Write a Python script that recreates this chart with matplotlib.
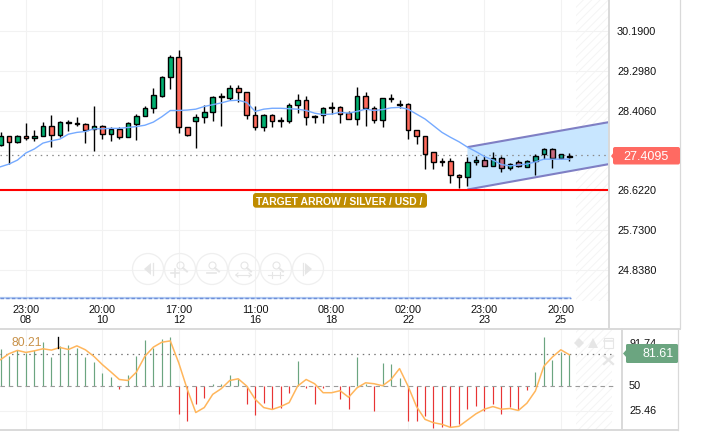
import matplotlib
matplotlib.use("Agg")
from matplotlib import pyplot as plt
from matplotlib.patches import Circle, FancyBboxPatch, Polygon, Rectangle
import numpy as np

plt.rcParams["font.family"] = ["Liberation Sans", "DejaVu Sans"]
plt.rcParams["hatch.linewidth"] = 0.6

# candles, one entry per bar
high = [27.92, 27.83, 27.86, 28.12, 27.98, 28.16, 28.30, 28.17, 28.19, 28.27, 28.14, 28.50, 28.09, 28.03, 28.05, 28.16, 28.33,
        28.50, 28.92, 29.19, 29.65, 29.77, 28.03, 28.34, 28.54, 28.74, 28.80, 28.97, 28.99, 28.82, 28.52, 28.33, 28.33, 28.27,
        28.57, 28.79, 28.73, 28.30, 28.48, 28.59, 28.52, 28.39, 28.93, 28.82, 28.50, 28.68, 28.78, 28.64, 28.57, 27.98, 27.85,
        27.47, 27.34, 27.34, 26.98, 27.36, 27.38, 27.38, 27.47, 27.40, 27.24, 27.30, 27.31, 27.44, 27.56, 27.56, 27.44, 27.46]
body_top = [27.83, 27.83, 27.85, 27.85, 27.83, 28.06, 28.06, 28.15, 28.15, 28.12, 28.10, 28.07, 28.06, 27.99, 27.99, 28.12, 28.29,
            28.46, 28.75, 29.15, 29.60, 29.60, 28.03, 28.26, 28.37, 28.72, 28.73, 28.91, 28.91, 28.82, 28.30, 28.30, 28.30, 28.19,
            28.53, 28.64, 28.64, 28.28, 28.46, 28.48, 28.48, 28.35, 28.73, 28.73, 28.46, 28.68, 28.69, 28.55, 28.55, 27.97, 27.83,
            27.47, 27.27, 27.27, 26.96, 27.25, 27.30, 27.30, 27.35, 27.35, 27.21, 27.25, 27.27, 27.40, 27.54, 27.54, 27.43, 27.39]
body_bottom = [27.64, 27.70, 27.70, 27.79, 27.79, 27.83, 27.87, 27.87, 28.12, 28.10, 27.98, 28.00, 27.89, 27.89, 27.82, 27.82, 28.11,
               28.29, 28.46, 28.74, 29.15, 28.03, 27.87, 28.17, 28.26, 28.37, 28.72, 28.70, 28.82, 28.30, 28.03, 28.03, 28.17, 28.17,
               28.18, 28.53, 28.26, 28.26, 28.30, 28.46, 28.33, 28.23, 28.21, 28.46, 28.19, 28.19, 28.67, 28.53, 27.97, 27.83, 27.44,
               27.25, 27.25, 26.96, 26.91, 26.91, 27.25, 27.17, 27.17, 27.12, 27.12, 27.16, 27.15, 27.27, 27.43, 27.34, 27.34, 27.37]
low = [27.62, 27.21, 27.68, 27.76, 27.73, 27.83, 27.60, 27.82, 27.94, 28.07, 27.68, 27.51, 27.77, 27.73, 27.77, 27.81, 27.76,
       28.29, 28.35, 28.72, 28.89, 27.91, 27.85, 27.58, 28.13, 28.18, 28.07, 28.65, 28.61, 28.22, 27.98, 27.94, 28.05, 28.05,
       28.14, 28.36, 28.09, 28.12, 28.12, 28.33, 28.14, 28.21, 28.09, 28.07, 28.12, 28.05, 28.59, 28.47, 27.78, 27.65, 27.11,
       27.11, 27.16, 26.78, 26.68, 26.71, 27.20, 27.17, 27.17, 27.03, 27.07, 27.14, 27.14, 26.97, 27.32, 27.12, 27.32, 27.27]
is_up = [1, 0, 1, 0, 1, 1, 0, 1, 1, 0, 0, 1, 0, 1, 0, 1, 1,
         1, 1, 1, 1, 0, 0, 1, 1, 1, 1, 1, 0, 0, 0, 1, 0, 0,
         1, 1, 0, 0, 1, 1, 0, 0, 1, 0, 0, 1, 1, 1, 0, 0, 0,
         0, 0, 0, 0, 1, 1, 0, 1, 0, 1, 0, 1, 1, 1, 0, 1, 1]
ma_line = [27.15, 27.21, 27.30, 27.46, 27.55, 27.68, 27.73, 27.77, 27.88, 27.92, 27.94, 28.00, 28.00, 28.01, 28.01, 28.03, 28.05,
           28.08, 28.15, 28.27, 28.41, 28.41, 28.42, 28.44, 28.50, 28.54, 28.58, 28.63, 28.64, 28.59, 28.39, 28.44, 28.46, 28.46,
           28.45, 28.44, 28.41, 28.35, 28.32, 28.33, 28.37, 28.35, 28.39, 28.44, 28.41, 28.43, 28.47, 28.48, 28.44, 28.33, 28.22,
           28.07, 27.92, 27.81, 27.71, 27.59, 27.49, 27.38, 27.30, 27.20, 27.17, 27.19, 27.21, 27.26, 27.32, 27.32, 27.32, 27.32]

# oscillator panel
osc_bars = [86.3, 79.1, 85.6, 82.4, 85.6, 93.8, 78.4, 88.9, 89.9, 87.3, 78.4, 73.5, 62.7, 58.8, 46.7, 61.1, 79.1,
            95.4, 87.3, 96.1, 98.0, 22.2, 15.4, 32.4, 37.9, 52.0, 52.0, 61.1, 56.9, 32.4, 20.6, 33.3, 26.5, 28.4,
            43.1, 74.2, 47.7, 32.4, 47.7, 50.0, 37.3, 26.5, 78.1, 52.0, 24.5, 72.5, 71.6, 57.8, 14.7, 14.7, 19.6,
            7.8, 8.8, 8.8, 11.8, 26.5, 30.4, 24.5, 32.4, 21.6, 29.4, 25.5, 46.1, 63.7, 98.0, 75.5, 83.0, 81.4]
osc_line = [75.8, 81.7, 85.0, 83.0, 84.6, 86.6, 85.3, 87.9, 85.9, 89.5, 85.6, 79.1, 70.9, 63.7, 56.2, 55.2, 63.4,
            79.1, 88.2, 93.1, 94.4, 72.5, 46.4, 23.5, 28.4, 41.5, 47.1, 55.2, 56.9, 49.7, 36.6, 28.4, 26.5, 29.4,
            33.3, 49.7, 56.2, 52.0, 43.1, 43.1, 45.1, 38.6, 48.0, 52.9, 52.0, 50.0, 56.2, 67.0, 49.7, 29.4, 16.7,
            13.4, 11.8, 8.8, 9.8, 16.0, 22.2, 26.8, 29.4, 26.8, 27.5, 25.5, 32.7, 44.8, 69.3, 78.4, 85.6, 80.7]

# axis labels
time_idx = [3, 12, 21, 30, 39, 48, 57, 66]
time_hours = ["23:00", "20:00", "17:00", "11:00", "08:00", "02:00", "23:00", "20:00"]
time_days = ["08", "10", "12", "16", "18", "22", "23", "25"]
price_ticks = [30.19, 29.298, 28.406, 27.514, 26.622, 25.73, 24.838]
osc_ticks = [91.74, 50, 25.46]

# drawn objects
last_price = 27.4095
last_osc = 81.61
target_price = 26.63
axis_price = 24.218
channel_x = [55, 71.67]
channel_top = [27.59, 28.15]
channel_bottom = [26.64, 27.21]

W, H = 706, 435
GREEN = "#00b070"
RED = "#ff6a5c"
GRID = "#f2f2f2"
FRAME = "#d9d9d9"
IDX0, STEP = 0.5, 8.49


def add_axes(x0, y0, x1, y1):
	ax = fig.add_axes([x0 / W, 1 - y1 / H, (x1 - x0) / W, (y1 - y0) / H])
	ax.set_xlim((0 - IDX0) / STEP, (x1 - IDX0) / STEP)
	ax.axis("off")
	return ax


fig = plt.figure(figsize=(W / 100, H / 100), dpi=100, facecolor="white")

# page in pixel coordinates, for frame lines and labels
page = fig.add_axes([0, 0, 1, 1], zorder=5)
page.set_xlim(0, W)
page.set_ylim(H, 0)
page.axis("off")
page.patch.set_alpha(0)

ax = add_axes(0, 0, 609, 302)
ax.set_ylim(24.144, 30.907)

ind = add_axes(0, 331, 622, 431)
ind.set_ylim(6.18, 105.2)

# grids
for t in time_idx:
	ax.axvline(t, color=GRID, lw=0.8, zorder=1)
	ind.axvline(t, color=GRID, lw=0.8, zorder=1)
for p in price_ticks:
	ax.axhline(p, color=GRID, lw=0.8, zorder=1)
ind.axhline(25.46, xmax=612 / 622, color=GRID, lw=0.8, zorder=1)

# striped area right of the last bar
ax.add_patch(Rectangle((71.67 - 33 / STEP, 24.144), 33 / STEP, 6.77, facecolor="none", edgecolor="#f3f3f3", hatch="////", lw=0, zorder=1))
ind.add_patch(Rectangle((67.8, 6.18), 36 / STEP, 99, facecolor="none", edgecolor="#f3f3f3", hatch="////", lw=0, zorder=1))

# channel
ax.add_patch(Polygon([(channel_x[0], channel_top[0]), (channel_x[1], channel_top[1]), (channel_x[1], channel_bottom[1]), (channel_x[0], channel_bottom[0])],
	facecolor="#c8e6ff", edgecolor="none", zorder=2))
ax.plot(channel_x, channel_top, color="#7f7fc4", lw=1.5, zorder=3, solid_capstyle="butt")
ax.plot(channel_x, channel_bottom, color="#7f7fc4", lw=1.5, zorder=3, solid_capstyle="butt")

# last price and target levels
ax.axhline(last_price, color="#8a8a8a", lw=0.9, ls=(0, (1.2, 3.4)), zorder=3)
ax.axhline(target_price, color="#ff0000", lw=1.5, zorder=3)

# candles
xs = np.arange(len(high))
for i in xs:
	ax.vlines(i, low[i], high[i], color="black", lw=1, zorder=4)
	face = GREEN if is_up[i] else RED
	if i >= 56:
		face = "#12a88c" if is_up[i] else "#c66a80"
	ax.add_patch(Rectangle((i - 0.27, body_bottom[i]), 0.54, body_top[i] - body_bottom[i], facecolor=face, edgecolor="black", lw=1, zorder=5))
ax.plot(xs, ma_line, color="#75aaff", lw=1, zorder=6)

# time axis line
ax.plot([-0.06, 67.2], [axis_price, axis_price], color="#b4cdf4", lw=1.6, zorder=2, solid_capstyle="butt")
ax.plot([-0.06, 67.2], [axis_price, axis_price], color="#6f8fd8", lw=1, ls=(0, (2.5, 1.6)), zorder=3)

# oscillator
for i in xs:
	col = "#6ba580" if osc_bars[i] >= 50 else "#e83434"
	ind.vlines(i, 50, osc_bars[i], color=col, lw=0.85, zorder=2)
ind.plot([-0.06, 72.1], [50, 50], color="#9a9a9a", lw=0.8, ls=(0, (4, 3.5)), zorder=3)
ind.plot([-0.06, 72.1], [last_osc, last_osc], color="#777777", lw=0.9, ls=(0, (1.2, 3.4)), zorder=3)
ind.plot(xs, osc_line, color="#ffb65c", lw=1.1, zorder=4)

# frame
page.plot([609, 609], [0, 329], color=FRAME, lw=1.4)
page.plot([680, 680], [0, 329], color=FRAME, lw=0.9)
page.plot([0, 680], [329.5, 329.5], color=FRAME, lw=1.4)
page.plot([622, 622], [330, 431], color=FRAME, lw=1.4)
page.plot([678, 678], [330, 431], color=FRAME, lw=0.9)
page.plot([0, 678], [430.5, 430.5], color=FRAME, lw=1.4)

# time labels
for t, hh, dd in zip(time_idx, time_hours, time_days):
	px = IDX0 + t * STEP
	page.text(px, 310, hh, ha="center", va="center", fontsize=7.8, color="#111111")
	page.text(px, 320, dd, ha="center", va="center", fontsize=7.8, color="#111111")

# price labels, 27.5140 sits partly behind the last price tag as in the reference
for p in price_ticks:
	py = 32 + (30.19 - p) * 44.66
	page.text(617, py, "%.4f" % p, ha="left", va="center", fontsize=7.8, color="#111111", zorder=1)
page.add_patch(Polygon([(611, 157), (614, 153), (614, 161)], facecolor="#ff6a62", edgecolor="none", zorder=2))
page.add_patch(FancyBboxPatch((613, 148), 67, 17.5, boxstyle="round,pad=0,rounding_size=2", facecolor="#ff6a62", edgecolor="none", zorder=2))
page.text(646, 157, "%.4f" % last_price, ha="center", va="center", fontsize=9, color="white", zorder=3)

# target label
page.add_patch(FancyBboxPatch((253, 194), 174, 14.7, boxstyle="round,pad=0,rounding_size=3", facecolor="#bf8c00", edgecolor="none", zorder=2))
page.text(339, 201.7, "TARGET ARROW / SILVER / USD /", ha="center", va="center", fontsize=7.45, fontweight="bold", color="white", zorder=3)

# oscillator labels
page.text(12, 343.5, "80.21", ha="left", va="center", fontsize=8.8, color="#c8924a")
page.plot([58.3, 58.3], [338, 349], color="black", lw=0.95)
for v in osc_ticks:
	py = 386.3 - (v - 50) * 1.02
	page.text(629, py, ("%.2f" % v).rstrip("0").rstrip(".") if v == 50 else "%.2f" % v, ha="left", va="center", fontsize=7.8, color="#111111", zorder=1)
page.add_patch(Polygon([(623, 354.5), (627, 350), (627, 359)], facecolor="#6ba580", edgecolor="none", zorder=2))
page.add_patch(FancyBboxPatch((626, 345), 52, 19, boxstyle="round,pad=0,rounding_size=1.5", facecolor="#6ba580", edgecolor="none", zorder=2))
page.text(658.5, 354.5, "%.2f" % last_osc, ha="center", va="center", fontsize=9, color="white", zorder=3)

# panel icons
ICON = "#e6e6e6"
page.plot([579], [344], marker="D", ms=5.5, color=ICON, mew=0)
page.plot([593], [344], marker="^", ms=7, color=ICON, mew=0)
page.add_patch(Rectangle((604, 339), 9, 10, facecolor="white", edgecolor=ICON, lw=0.8))
page.plot([604, 613], [342, 342], color=ICON, lw=1.1)
page.plot([604, 613], [357, 365], color=ICON, lw=1.6)
page.plot([604, 613], [365, 357], color=ICON, lw=1.6)

# navigation buttons
NAV = "#efefef"
NAV2 = "#e6e6e6"
for cx in [148, 180, 212, 244, 276, 308]:
	page.add_patch(Circle((cx, 270), 15.5, facecolor="none", edgecolor=NAV, lw=0.9, zorder=1))
page.add_patch(Polygon([(144, 270), (151, 264), (151, 276)], facecolor=NAV2, edgecolor="none"))
page.plot([153, 153], [264, 276], color=NAV2, lw=0.9)
page.add_patch(Polygon([(312, 270), (305, 264), (305, 276)], facecolor=NAV2, edgecolor="none"))
page.plot([303, 303], [264, 276], color=NAV2, lw=0.9)
for cx in [180, 212, 244, 276]:
	page.add_patch(Circle((cx + 0.5, 266.5), 3.5, facecolor="none", edgecolor=NAV2, lw=0.8))
	page.plot([cx + 3, cx + 7], [269, 272.5], color=NAV2, lw=1.4)
page.plot([171, 179], [274, 274], color=NAV2, lw=1.2)
page.plot([175, 175], [270, 278], color=NAV2, lw=1.2)
page.plot([207, 216], [274, 274], color=NAV2, lw=1.2)
for cx in [244, 276]:
	page.plot([cx - 8, cx + 7], [276, 276], color=NAV2, lw=0.8)
page.plot([236, 238], [276, 274], color=NAV2, lw=0.8)
page.plot([236, 238], [276, 278], color=NAV2, lw=0.8)
page.plot([251, 249], [276, 274], color=NAV2, lw=0.8)
page.plot([251, 249], [276, 278], color=NAV2, lw=0.8)
page.plot([272, 272], [273, 279], color=NAV2, lw=0.8)
page.plot([280, 280], [273, 279], color=NAV2, lw=0.8)

fig.savefig("out.png", dpi=100, facecolor="white")
plt.close()
